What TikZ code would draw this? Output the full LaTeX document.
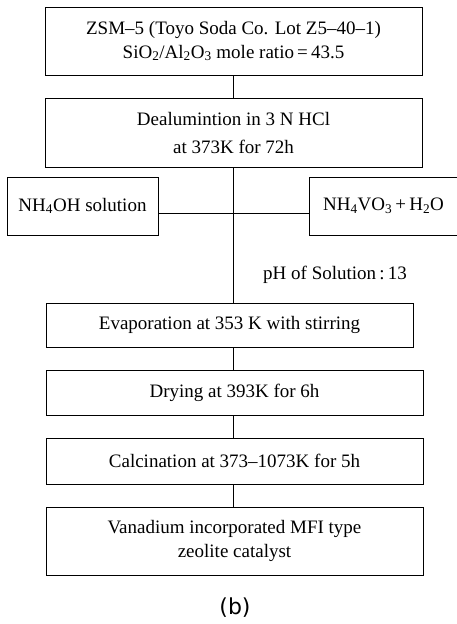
\documentclass[tikz,border=0pt]{standalone}
\usepackage{fontspec}
\setmainfont{Liberation Serif}
\setsansfont{DejaVu Sans}
\begin{document}
\begin{tikzpicture}[x=1pt,y=-1pt]
				\tikzstyle{Stage} = [rectangle, draw, line width=0.9pt, align=center, inner sep=0pt, font=\fontsize{19}{24}\selectfont]
				\useasboundingbox (0,0) rectangle (457,624);
				\node (zsm) at (233.5,41) [Stage, minimum width=377, minimum height=68] {ZSM–5 (Toyo Soda Co. Lot Z5–40–1)\\SiO\textsubscript{2}/Al\textsubscript{2}O\textsubscript{3} mole ratio\,=\,43.5};
				\node (dealum) at (233.5,132.5) [Stage, minimum width=377, minimum height=69] {Dealumintion in 3 N HCl\\[4pt]at 373K for 72h};
				\node (nhoh) at (82.5,206) [Stage, minimum width=151, minimum height=58] {NH\textsubscript{4}OH solution};
				\node (nhvo) at (383.5,206) [Stage, minimum width=149, minimum height=58] {NH\textsubscript{4}VO\textsubscript{3}\,+\,H\textsubscript{2}O};
				\node (ph) at (335,275) [font=\fontsize{19}{24}\selectfont] {pH of Solution\,:\,13};
				\node (evap) at (229.5,325) [Stage, minimum width=367, minimum height=44] {Evaporation at 353 K with stirring};
				\node (dry) at (234.5,392.5) [Stage, minimum width=377, minimum height=45] {Drying at 393K for 6h};
				\node (calc) at (234.5,461) [Stage, minimum width=377, minimum height=46] {Calcination at 373–1073K for 5h};
				\node (vmfi) at (234.5,541) [Stage, minimum width=377, minimum height=68] {Vanadium incorporated MFI type\\zeolite catalyst};
				\node (cap) at (235,608) [font=\sffamily\fontsize{22}{26}\selectfont] {(b)};
				\draw [-] (zsm) to (dealum);
				\draw [-] (dealum.south) to (evap.north -| dealum.south);
				\draw [-] ([yshift=-7pt]nhoh.east) to ([yshift=-7pt]nhvo.west);
				\draw [-] (evap.south -| dealum.south) to (dry.north -| dealum.south);
				\draw [-] (dry.south -| dealum.south) to (calc.north -| dealum.south);
				\draw [-] (calc.south -| dealum.south) to (vmfi.north -| dealum.south);
			\end{tikzpicture}
\end{document}
